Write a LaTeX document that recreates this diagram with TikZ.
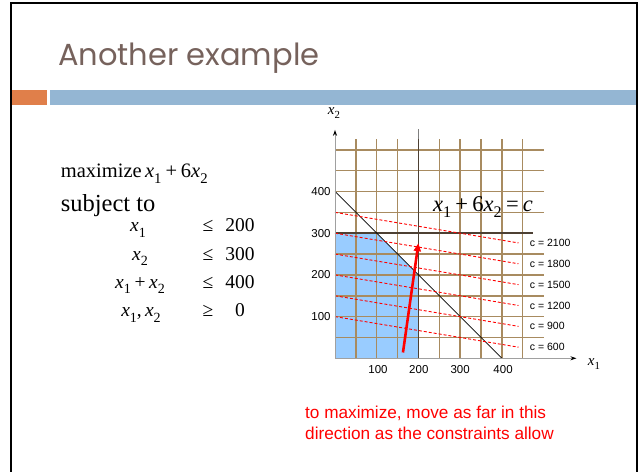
\documentclass[tikz,border=0pt]{standalone}
\usepackage{fontspec}
\usepackage{graphicx}
\setmainfont{Liberation Serif}
\newfontfamily\arialf{Liberation Sans}
\newfontfamily\titlef{Poppins}
\usetikzlibrary{arrows.meta}
\definecolor{titlec}{HTML}{76625C}
\definecolor{barorange}{HTML}{E07F4A}
\definecolor{barblue}{HTML}{94B6D3}
\definecolor{gridbrown}{HTML}{A88B60}
\definecolor{darkline}{HTML}{4D4033}
\definecolor{feas}{HTML}{99CCFF}
\definecolor{axisgray}{HTML}{A0A0A0}
\newcommand{\vx}[1]{\textit{x}\raisebox{-0.28em}{\scalebox{0.72}{#1}}}
\newcommand{\opsp}{\hspace{0.19em}}
\tikzset{
  gridln/.style={draw=gridbrown, line width=1.5pt},
  darkln/.style={draw=darkline, line width=1.6pt},
  axisln/.style={draw=axisgray, line width=1pt, -{Stealth[length=6pt,width=4pt,color=black]}},
  isoln/.style={draw=red, line width=0.9pt, dash pattern=on 3pt off 2pt},
  clabel/.style={anchor=west, inner sep=0pt, font=\arialf\fontsize{10.5}{12}\selectfont},
  tick/.style={inner sep=0pt, font=\arialf\fontsize{11.5}{13}\selectfont},
  cons/.style={anchor=base, inner sep=0pt, font=\fontsize{19.5}{22}\selectfont},
}
\begin{document}
\begin{tikzpicture}[x=1pt, y=-1pt]
\useasboundingbox (0,0) rectangle (639,471);
% frame
\draw[black, line width=2pt] (11,472) -- (11,3) -- (637,3) -- (637,472);
% bars
\fill[barorange] (12.3,90) rectangle (46.7,105);
\fill[barblue] (50,90) rectangle (636,105);
% title
\node[anchor=base west, inner sep=0pt, text=titlec, font=\titlef\fontsize{30.5}{34}\selectfont] (title) at (58,65) {Another example};
% left text
\node[anchor=base west, inner sep=0pt, font=\fontsize{20.5}{24}\selectfont] (maxtxt) at (60.7,177.3) {maximize\,\vx{1}\opsp+\opsp6\vx{2}};
\node[anchor=base west, inner sep=0pt, font=\fontsize{24.5}{28}\selectfont] (subj) at (60.7,211) {subject to};
\node[cons] (l1) at (138,231.7) {\vx{1}};
\node[cons] (r1) at (208,231.7) {≤};
\node[cons] (n1) at (240,231.7) {200};
\node[cons] (l2) at (140,260) {\vx{2}};
\node[cons] (r2) at (208,260) {≤};
\node[cons] (n2) at (240,260) {300};
\node[cons] (l3) at (140,288.3) {\vx{1}\opsp+\opsp\vx{2}};
\node[cons] (r3) at (208,288.3) {≤};
\node[cons] (n3) at (240,288.3) {400};
\node[cons] (l4) at (141,316.7) {\vx{1},\,\vx{2}};
\node[cons] (r4) at (208,316.7) {≥};
\node[cons] (n4) at (240,316.7) {0};
% graph
\begin{scope}[xshift=335pt, yshift=-358.3pt, x=0.417pt, y=0.417pt]
  \fill[feas] (0,0) -- (200,0) -- (200,200) -- (100,300) -- (0,300) -- cycle;
  \foreach \gx in {50,100,150,250,300,350,400,450}
    \draw[gridln] (\gx,0) -- (\gx,525);
  \foreach \gy in {50,100,150,200,250,350,400,450,500}
    \draw[gridln] (0,\gy) -- (500,\gy);
  \draw[darkln] (200,0) -- (200,525);
  \draw[draw=gray, line width=1.6pt] (200,525) -- (200,549);
  \draw[darkln] (0,300) -- (475,300);
  \draw[black, line width=0.7pt] (0,400) -- (400,0);
  \foreach \c in {600,900,1200,1500,1800,2100}{
    \draw[isoln] (0,\c/6) -- (440,{(\c-440)/6});
    \node[clabel] (c\c) at (467,{(\c-440)/6}) {c = \c};
  }
  \draw[axisln] (0,0) -- (0,548);
  \draw[axisln] (0,0) -- (579,0);
  \coordinate (arrs) at (163,14);
  \coordinate (arre) at (200,276);
  \draw[red, line width=2.6pt, -{Triangle[length=8pt,width=7pt]}] (arrs) -- (arre);
  \foreach \t in {100,200,300,400}{
    \node[tick, anchor=east] (ty\t) at (-10,\t) {\t};
  }
  \node[tick] (tx100) at (103,-27) {100};
  \node[tick] (tx200) at (201,-27) {200};
  \node[tick] (tx300) at (300,-27) {300};
  \node[tick] (tx400) at (403,-27) {400};
\end{scope}
\node[inner sep=0pt, font=\fontsize{15}{17}\selectfont] (x2lab) at (334,113) {\vx{2}};
\node[inner sep=0pt, font=\fontsize{15}{17}\selectfont] (x1lab) at (594,364) {\vx{1}};
\node[inner sep=0pt, font=\fontsize{22.5}{24}\selectfont] (eq) at (483,206.7) {\vx{1}\opsp+\opsp6\vx{2}\opsp=\opsp\textit{c}};
% red note
\node[anchor=north west, align=left, inner sep=0pt, text=red, font=\arialf\fontsize{17.2}{21}\selectfont] (note) at (305,406) {to maximize, move as far in this\\direction as the constraints allow};
\end{tikzpicture}
\end{document}
